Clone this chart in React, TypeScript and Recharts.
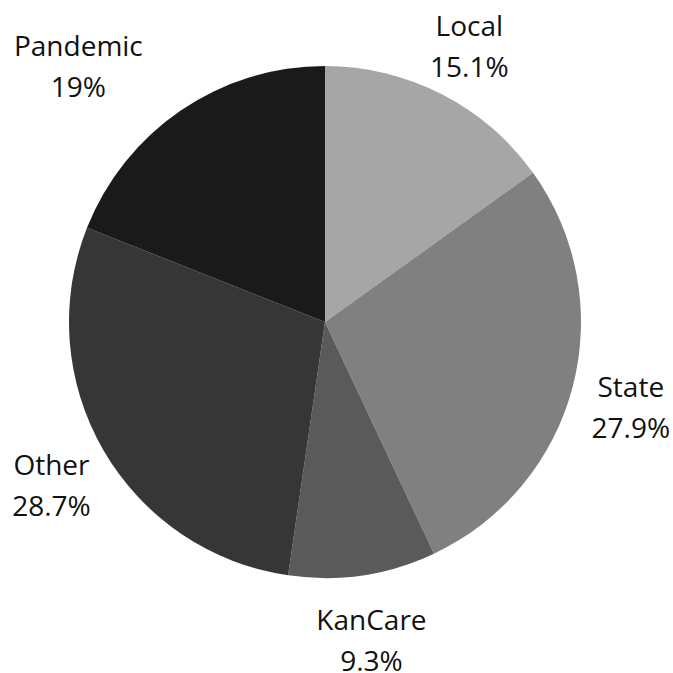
import { PieChart, Pie, Cell } from 'recharts';

const categories = ['Local', 'State', 'KanCare', 'Other', 'Pandemic'];
const shares = [15.1, 27.9, 9.3, 28.7, 19];
const colors = ['#a6a6a6', '#808080', '#5a5a5a', '#363636', '#1a1a1a'];

const data = categories.map((name, i) => ({ name, value: shares[i] }));

// Pandemic label sits right-aligned at its anchor in the original
const labelShift: Record<string, number> = { Pandemic: -69 };

const RAD = Math.PI / 180;

function renderLabel(props: any) {
  const { cx, cy, midAngle, name, value } = props;
  const r = 316;
  const x = cx + r * Math.cos(-midAngle * RAD) + (labelShift[name] ?? 0);
  const y = cy + r * Math.sin(-midAngle * RAD);
  return (
    <text
      x={x}
      y={y}
      textAnchor="middle"
      fill="#111"
      fontSize={28}
      fontFamily="'Open Sans', sans-serif"
    >
      <tspan x={x} y={y - 5}>{name}</tspan>
      <tspan x={x} y={y + 36}>{`${value}%`}</tspan>
    </text>
  );
}

export default function App() {
  return (
    <div style={{ position: 'absolute', left: 0, top: 0, width: 673, height: 673, background: '#fff' }}>
      <PieChart width={673} height={673} margin={{ top: 0, right: 0, bottom: 0, left: 0 }}>
        <Pie
          data={data}
          dataKey="value"
          nameKey="name"
          cx={325}
          cy={322}
          outerRadius={256}
          startAngle={90}
          endAngle={-270}
          stroke="none"
          label={renderLabel}
          labelLine={false}
          isAnimationActive={false}
        >
          {data.map((d, i) => (
            <Cell key={d.name} fill={colors[i]} />
          ))}
        </Pie>
      </PieChart>
    </div>
  );
}
